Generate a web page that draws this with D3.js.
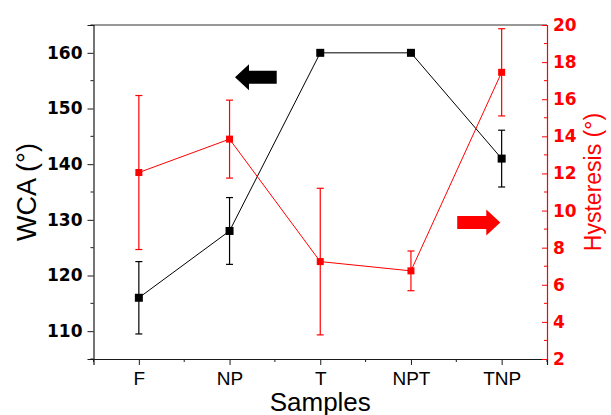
<!DOCTYPE html>
<html>
<head>
<meta charset="utf-8">
<script src="https://cdn.jsdelivr.net/npm/d3@7"></script>
<style>
  body { margin: 0; background: #fff; }
  svg { display: block; }
</style>
</head>
<body>
<svg id="chart"></svg>
<script>
const categories = ["F", "NP", "T", "NPT", "TNP"];
const wcaValues = [116, 128, 160, 160, 141];
const wcaErrors = [6.5, 6, 0, 0, 5.1];
const hysValues = [12.05, 13.85, 7.25, 6.75, 17.45];
const hysErrors = [4.15, 2.1, 3.95, 1.07, 2.35];
const wcaTicks = [110, 120, 130, 140, 150, 160];
const wcaMinor = [105, 115, 125, 135, 145, 155, 165];
const hysTicks = [2, 4, 6, 8, 10, 12, 14, 16, 18, 20];
const hysMinor = [3, 5, 7, 9, 11, 13, 15, 17, 19];
const xMinor = [0.5, 1.5, 2.5, 3.5, 4.5, 5.5];

const width = 611, height = 415;
const margin = { top: 25, right: 64, bottom: 56, left: 93.5 };
const black = "#1a1a1a", red = "#ff0000";

const svg = d3.select("#chart").attr("width", width).attr("height", height);

const x = d3.scaleLinear()
  .domain([0.5, categories.length + 0.5])
  .range([margin.left, width - margin.right]);

const yL = d3.scaleLinear()
  .domain([105, 165])
  .range([height - margin.bottom, margin.top]);

const yR = d3.scaleLinear()
  .domain([2, 20])
  .range([height - margin.bottom, margin.top]);

const tickFont = "'DejaVu Sans', sans-serif";
const labelFont = "'Liberation Sans', Arial, sans-serif";

// top frame line
svg.append("line")
  .attr("x1", x(0.5)).attr("x2", x(5.5))
  .attr("y1", yL(165)).attr("y2", yL(165))
  .attr("stroke", "#333").attr("stroke-width", 1.2);

// bottom axis
const gx = svg.append("g")
  .attr("transform", `translate(0,${yL(105)})`)
  .call(d3.axisBottom(x)
    .tickValues(d3.range(1, categories.length + 1))
    .tickFormat(d => categories[d - 1])
    .tickSize(6).tickPadding(7));
gx.select(".domain").attr("stroke", black).attr("stroke-width", 1.2);
gx.selectAll(".tick line").attr("stroke", black);
gx.selectAll("text")
  .attr("font-family", labelFont).attr("font-size", 19).attr("fill", "#000");
gx.selectAll(".minor").data(xMinor).enter()
  .append("line")
  .attr("x1", d => x(d)).attr("x2", d => x(d))
  .attr("y1", 0).attr("y2", 3).attr("stroke", black);

// left axis
const gl = svg.append("g")
  .attr("transform", `translate(${x(0.5)},0)`)
  .call(d3.axisLeft(yL).tickValues(wcaTicks).tickSize(6).tickPadding(5));
gl.select(".domain").attr("stroke", black).attr("stroke-width", 1.2);
gl.selectAll(".tick line").attr("stroke", black);
gl.selectAll("text")
  .attr("font-family", tickFont).attr("font-weight", "bold")
  .attr("font-size", 17).attr("fill", "#000");
gl.selectAll(".minor").data(wcaMinor).enter()
  .append("line")
  .attr("x1", -3).attr("x2", 0)
  .attr("y1", d => yL(d)).attr("y2", d => yL(d)).attr("stroke", black);

// right axis (ticks inward)
const gr = svg.append("g")
  .attr("transform", `translate(${x(5.5)},0)`)
  .call(d3.axisRight(yR).tickValues(hysTicks).tickSize(-5).tickPadding(6));
gr.select(".domain").attr("stroke", red).attr("stroke-width", 1.2);
gr.selectAll(".tick line").attr("stroke", red);
gr.selectAll("text")
  .attr("font-family", tickFont).attr("font-weight", "bold")
  .attr("font-size", 17).attr("fill", red);
gr.selectAll(".minor").data(hysMinor).enter()
  .append("line")
  .attr("x1", -3).attr("x2", 0)
  .attr("y1", d => yR(d)).attr("y2", d => yR(d)).attr("stroke", red);

// axis titles
svg.append("text")
  .attr("x", x(3)).attr("y", 411)
  .attr("text-anchor", "middle")
  .attr("font-family", labelFont).attr("font-size", 26)
  .text("Samples");

svg.append("text")
  .attr("transform", `translate(36,${(yL(105) + yL(165)) / 2}) rotate(-90)`)
  .attr("text-anchor", "middle")
  .attr("font-family", labelFont).attr("font-size", 27)
  .text("WCA (°)");

svg.append("text")
  .attr("transform", `translate(601,182) rotate(-90)`)
  .attr("text-anchor", "middle")
  .attr("font-family", labelFont).attr("font-size", 23)
  .attr("fill", red)
  .text("Hysteresis (°)");

// series drawing helper
function drawSeries(values, errors, y, color, size) {
  const pts = values.map((v, i) => ({ i: i + 1, v, e: errors[i] }));
  const g = svg.append("g");

  g.append("path")
    .datum(pts)
    .attr("fill", "none").attr("stroke", color).attr("stroke-width", 1)
    .attr("d", d3.line().x(d => x(d.i)).y(d => y(d.v)));

  const eb = g.selectAll(".eb").data(pts.filter(d => d.e > 0)).enter().append("g");
  eb.append("line")
    .attr("x1", d => x(d.i)).attr("x2", d => x(d.i))
    .attr("y1", d => y(d.v - d.e)).attr("y2", d => y(d.v + d.e))
    .attr("stroke", color).attr("stroke-width", 1.2);
  [1, -1].forEach(s => {
    eb.append("line")
      .attr("x1", d => x(d.i) - 3.5).attr("x2", d => x(d.i) + 3.5)
      .attr("y1", d => y(d.v + s * d.e)).attr("y2", d => y(d.v + s * d.e))
      .attr("stroke", color).attr("stroke-width", 1.2);
  });

  g.selectAll("rect").data(pts).enter().append("rect")
    .attr("x", d => x(d.i) - size / 2).attr("y", d => y(d.v) - size / 2)
    .attr("width", size).attr("height", size)
    .attr("fill", color);
}

drawSeries(wcaValues, wcaErrors, yL, "#000", 8);
drawSeries(hysValues, hysErrors, yR, red, 7);

// block arrows pointing to each series' axis
function blockArrow(tipX, tailX, cy, color) {
  const dir = Math.sign(tailX - tipX);
  const headBase = tipX + dir * 14;
  const pts = [
    [tipX, cy], [headBase, cy - 13], [headBase, cy - 6.5], [tailX, cy - 6.5],
    [tailX, cy + 6.5], [headBase, cy + 6.5], [headBase, cy + 13]
  ];
  svg.append("path")
    .attr("d", d3.line()(pts) + "Z")
    .attr("fill", color);
}

blockArrow(x(2.06), x(2.52), yL(155.6), "#000");
blockArrow(x(4.985), x(4.51), yR(9.35), red);
</script>
</body>
</html>
